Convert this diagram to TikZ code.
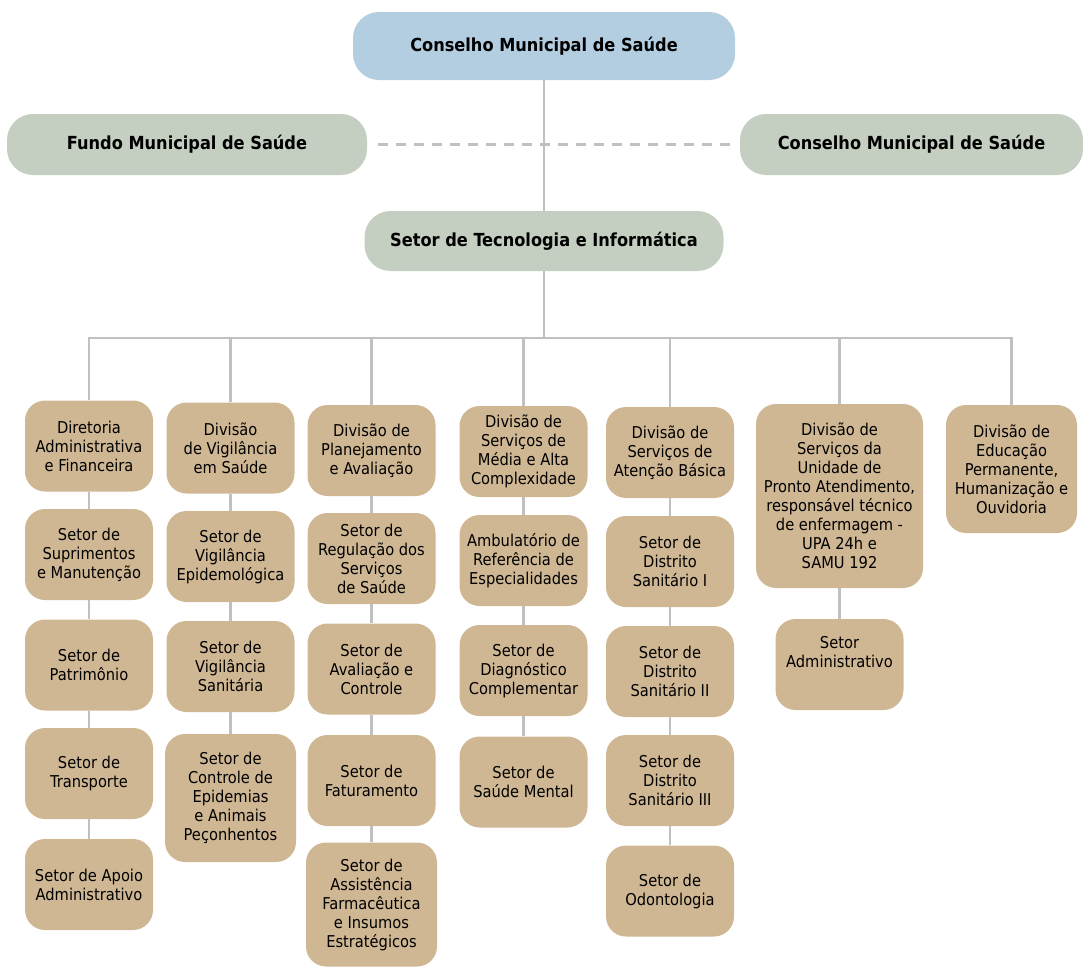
\documentclass[tikz,border=0pt]{standalone}
\usepackage{fontspec}
\setmainfont{DejaVu Sans Condensed}
\usetikzlibrary{positioning}
\definecolor{tan}{RGB}{207,183,148}
\definecolor{sky}{RGB}{179,206,224}
\definecolor{sage}{RGB}{197,207,193}
\definecolor{wire}{RGB}{192,192,192}
\tikzset{
  orgunit/.style={rectangle, rounded corners=20pt, fill=tan, minimum width=128pt, minimum height=91pt, align=center, inner sep=1pt, font=\fontsize{16.3}{19}\selectfont},
  orghead/.style={rectangle, rounded corners=26pt, fill=sage, minimum height=61pt, font=\bfseries\fontsize{18}{19}\selectfont},
  link/.style={draw=wire, line width=2.2pt},
}
\begin{document}
\begin{tikzpicture}[x=1pt, y=-1pt]
    \useasboundingbox (0,0) rectangle (1083,967);

    % top of the chart
    \node[orghead, fill=sky, minimum width=382pt, minimum height=68pt] (cms) at (544, 46) {Conselho Municipal de Saúde};
    \node[orghead, minimum width=360pt] (fms) at (187, 144.5) {Fundo Municipal de Saúde};
    \node[orghead, minimum width=343pt] (cms2) at (911.5, 144.5) {Conselho Municipal de Saúde};
    \node[orghead, minimum width=359pt, minimum height=60pt] (sti) at (544, 241) {Setor de Tecnologia e Informática};
    \coordinate (bus) at (544, 338);

    % first column
    \node[orgunit] (dir) at (89, 446) {Diretoria\\Administrativa\\e Financeira};
    \node[orgunit] (sup) at (89, 554.5) {Setor de\\Suprimentos\\e Manutenção};
    \node[orgunit] (pat) at (89, 665) {Setor de\\Patrimônio};
    \node[orgunit] (tra) at (89, 773.5) {Setor de\\Transporte};
    \node[orgunit] (apo) at (89, 884.5) {Setor de Apoio\\Administrativo};

    % second column
    \node[orgunit] (dvs) at (230.5, 448) {Divisão\\de Vigilância\\em Saúde};
    \node[orgunit] (epi) at (230.5, 556.5) {Setor de\\Vigilância\\Epidemológica};
    \node[orgunit] (san) at (230.5, 666.5) {Setor de\\Vigilância\\Sanitária};
    \node[orgunit, minimum width=131pt, minimum height=128pt] (cea) at (230.5, 798) {Setor de\\Controle de\\Epidemias\\e Animais\\Peçonhentos};

    % third column
    \node[orgunit] (dpa) at (371.5, 450.5) {Divisão de\\Planejamento\\e Avaliação};
    \node[orgunit] (reg) at (371.5, 558.5) {Setor de\\Regulação dos\\Serviços\\de Saúde};
    \node[orgunit] (avc) at (371.5, 669) {Setor de\\Avaliação e\\Controle};
    \node[orgunit] (fat) at (371.5, 780.5) {Setor de\\Faturamento};
    \node[orgunit, minimum width=131pt, minimum height=124pt] (afi) at (371.5, 904.5) {Setor de\\Assistência\\Farmacêutica\\e Insumos\\Estratégicos};

    % fourth column
    \node[orgunit] (mac) at (523.5, 451.5) {Divisão de\\Serviços de\\Média e Alta\\Complexidade};
    \node[orgunit] (amb) at (523.5, 560.5) {Ambulatório de\\Referência de\\Especialidades};
    \node[orgunit] (dgc) at (523.5, 670.5) {Setor de\\Diagnóstico\\Complementar};
    \node[orgunit] (smt) at (523.5, 782) {Setor de\\Saúde Mental};

    % fifth column
    \node[orgunit] (dab) at (670, 452.5) {Divisão de\\Serviços de\\Atenção Básica};
    \node[orgunit] (ds1) at (670, 561.5) {Setor de\\Distrito\\Sanitário I};
    \node[orgunit] (ds2) at (670, 671.5) {Setor de\\Distrito\\Sanitário II};
    \node[orgunit] (ds3) at (670, 780.5) {Setor de\\Distrito\\Sanitário III};
    \node[orgunit] (odo) at (670, 891) {Setor de\\Odontologia};

    % sixth and seventh column
    \node[orgunit, minimum width=167pt, minimum height=184pt] (upa) at (839.5, 496) {Divisão de\\Serviços da\\Unidade de\\Pronto Atendimento,\\responsável técnico\\de enfermagem -\\UPA 24h e\\SAMU 192};
    \node[orgunit] (adm) at (839.5, 664.5) {Setor\\Administrativo\\\strut};
    \node[orgunit, minimum width=131pt, minimum height=128pt] (edu) at (1011.5, 469) {Divisão de\\Educação\\Permanente,\\Humanização e\\Ouvidoria};

    % connectors
    \draw[link, line width=2.5pt, dash pattern=on 10pt off 8pt, shorten <=11pt, shorten >=2pt] (fms) -- (cms2);
    \draw[link] (cms) -- (sti);
    \draw[link] (sti) -- (bus);
    \foreach \top in {dir, dvs, dpa, mac, dab, upa, edu}
        \draw[link] (bus) -| (\top);
    \draw[link] (dir) -- (sup) (sup) -- (pat) (pat) -- (tra) (tra) -- (apo);
    \draw[link] (dvs) -- (epi) (epi) -- (san) (san) -- (cea);
    \draw[link] (dpa) -- (reg) (reg) -- (avc) (avc) -- (fat) (fat) -- (afi);
    \draw[link] (mac) -- (amb) (amb) -- (dgc) (dgc) -- (smt);
    \draw[link] (dab) -- (ds1) (ds1) -- (ds2) (ds2) -- (ds3) (ds3) -- (odo);
    \draw[link] (upa) -- (adm);
\end{tikzpicture}
\end{document}
